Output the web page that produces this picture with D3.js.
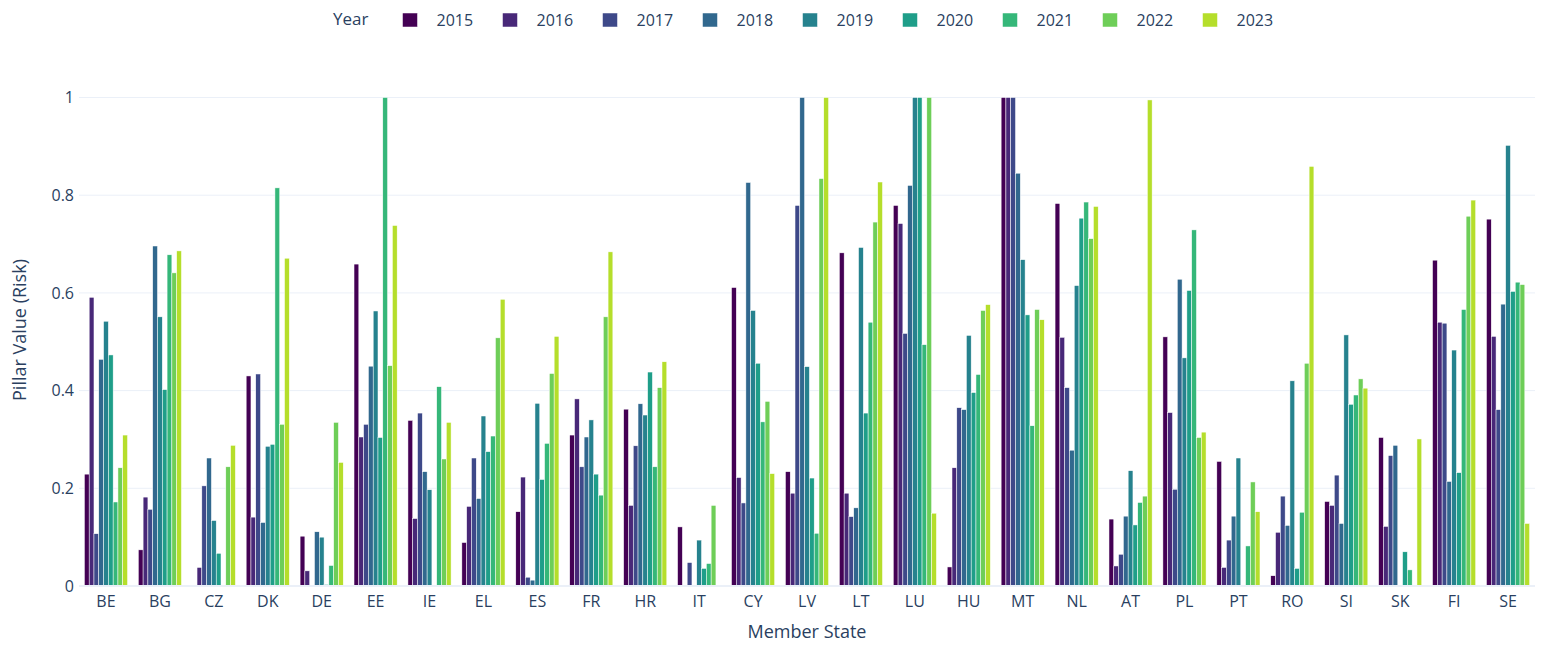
<!DOCTYPE html>
<html>
<head>
<meta charset="utf-8">
<script src="https://cdn.jsdelivr.net/npm/d3@7"></script>
<style>
  html, body { margin: 0; padding: 0; background: #fff; }
  text { font-family: "Open Sans", sans-serif; fill: #2a3f5f; }
</style>
</head>
<body>
<svg id="chart" width="1542" height="647"></svg>
<script>
const countries = ["BE","BG","CZ","DK","DE","EE","IE","EL","ES","FR","HR","IT","CY","LV","LT","LU","HU","MT","NL","AT","PL","PT","RO","SI","SK","FI","SE"];
const years = ["2015","2016","2017","2018","2019","2020","2021","2022","2023"];
const colors = ["#440154","#482878","#3e4989","#31688e","#26828e","#1f9e89","#35b779","#6ece58","#b5de2b"];
const yTicks = [0, 0.2, 0.4, 0.6, 0.8, 1];
const yTickLabels = ["0", "0.2", "0.4", "0.6", "0.8", "1"];

const v2015 = [0.229,0.074,null,0.430,0.102,0.659,0.339,0.089,0.152,0.309,0.362,0.121,0.611,0.234,0.682,0.779,0.039,1.0,0.783,0.137,0.510,0.255,0.021,0.173,0.304,0.667,0.751];
const v2016 = [0.591,0.182,0.038,0.141,0.031,0.305,0.138,0.163,0.223,0.383,0.165,null,0.222,0.190,0.190,0.742,0.242,1.0,0.509,0.041,0.355,0.038,0.110,0.165,0.122,0.540,0.511];
const v2017 = [0.107,0.157,0.205,0.434,null,0.331,0.354,0.262,0.018,0.244,0.287,0.048,0.170,0.779,0.142,0.517,0.365,1.0,0.406,0.065,0.198,0.094,0.184,0.227,0.267,0.538,0.361];
const v2018 = [0.464,0.696,0.262,0.130,0.111,0.450,0.234,0.179,0.012,0.305,0.373,null,0.826,1.0,0.160,0.820,0.361,0.845,0.278,0.143,0.628,0.143,0.124,0.128,0.288,0.214,0.577];
const v2019 = [0.542,0.551,0.134,0.286,0.100,0.563,0.197,0.348,0.374,0.340,0.350,0.094,0.564,0.449,0.693,1.0,0.513,0.668,0.615,0.236,0.467,0.262,0.420,0.514,null,0.483,0.902];
const v2020 = [0.473,0.402,0.067,0.290,0.003,0.304,null,0.275,0.218,0.229,0.438,0.036,0.456,0.221,0.354,1.0,0.396,0.555,0.753,0.125,0.605,null,0.036,0.372,0.070,0.232,0.603];
const v2021 = [0.172,0.678,null,0.815,0.042,1.0,0.408,0.307,0.292,0.186,0.244,0.046,0.336,0.108,0.540,0.494,0.433,0.328,0.786,0.171,0.729,0.082,0.151,0.391,0.033,0.566,0.622];
const v2022 = [0.242,0.641,0.244,0.331,0.335,0.451,0.260,0.508,0.435,0.551,0.406,0.165,0.378,0.834,0.745,1.0,0.564,0.566,0.711,0.184,0.304,0.213,0.456,0.424,null,0.757,0.617];
const v2023 = [0.309,0.686,0.288,0.671,0.253,0.738,0.335,0.587,0.511,0.684,0.459,null,0.230,1.0,0.827,0.149,0.576,0.545,0.777,0.995,0.315,0.152,0.859,0.405,0.301,0.790,0.128];
const series = [v2015,v2016,v2017,v2018,v2019,v2020,v2021,v2022,v2023];

const svg = d3.select("#chart");
const plot = { left: 79, right: 1535, top: 72, bottom: 586 };

const x = d3.scaleBand().domain(countries).range([plot.left, plot.right]).paddingInner(0.2).paddingOuter(0.1);
const xInner = d3.scaleBand().domain(years).range([0, x.bandwidth()]).padding(0);
const y = d3.scaleLinear().domain([0, 1]).range([plot.bottom, 97.5]);

// gridlines
svg.append("g").selectAll("line").data(yTicks.filter(t => t !== 0)).join("line")
  .attr("x1", plot.left).attr("x2", plot.right)
  .attr("y1", d => y(d)).attr("y2", d => y(d))
  .attr("stroke", "#EBF0F8").attr("stroke-width", 1);

// bars
const barData = [];
series.forEach((vals, si) => {
  vals.forEach((v, ci) => {
    if (v !== null) barData.push({ c: countries[ci], yr: years[si], v: v, col: colors[si] });
  });
});
svg.append("g").selectAll("rect").data(barData).join("rect")
  .attr("x", d => x(d.c) + xInner(d.yr))
  .attr("width", xInner.bandwidth())
  .attr("y", d => y(d.v))
  .attr("height", d => y(0) - y(d.v))
  .attr("fill", d => d.col)
  .attr("stroke", "#fff").attr("stroke-width", 0.5);

// zero line
svg.append("line").attr("x1", plot.left).attr("x2", plot.right)
  .attr("y1", y(0)).attr("y2", y(0)).attr("stroke", "#EBF0F8").attr("stroke-width", 2);

// y axis labels
const yAxis = d3.axisLeft(y).tickValues(yTicks).tickFormat((d, i) => yTickLabels[i]).tickSize(0).tickPadding(4);
const gy = svg.append("g").attr("transform", `translate(${plot.left - 1},0)`).call(yAxis);
gy.select(".domain").remove();
gy.selectAll("text").style("font-size", "16px").attr("fill", "#2a3f5f").style("font-family", "'Open Sans', sans-serif");

// x axis labels
const xAxis = d3.axisBottom(x).tickSize(0).tickPadding(10);
const gx = svg.append("g").attr("transform", `translate(0,${plot.bottom})`).call(xAxis);
gx.select(".domain").remove();
gx.selectAll("text").style("font-size", "16px").attr("fill", "#2a3f5f").style("font-family", "'Open Sans', sans-serif");

// axis titles
svg.append("text").attr("x", (plot.left + plot.right) / 2).attr("y", 638)
  .attr("text-anchor", "middle").style("font-size", "18px").text("Member State");
svg.append("text").attr("transform", `translate(26,${330}) rotate(-90)`)
  .attr("text-anchor", "middle").style("font-size", "18px").text("Pillar Value (Risk)");

// legend
const lg = svg.append("g");
lg.append("text").attr("x", 333).attr("y", 25).style("font-size", "17px").text("Year");
const items = lg.selectAll("g.item").data(years).join("g").attr("class", "item")
  .attr("transform", (d, i) => `translate(${402.5 + i * 100},0)`);
items.append("rect").attr("x", 0).attr("y", 13).attr("width", 15).attr("height", 14)
  .attr("fill", (d, i) => colors[i]).attr("stroke", "#fff").attr("stroke-width", 0.5);
items.append("text").attr("x", 34).attr("y", 26).style("font-size", "16px").text(d => d);
</script>
</body>
</html>
